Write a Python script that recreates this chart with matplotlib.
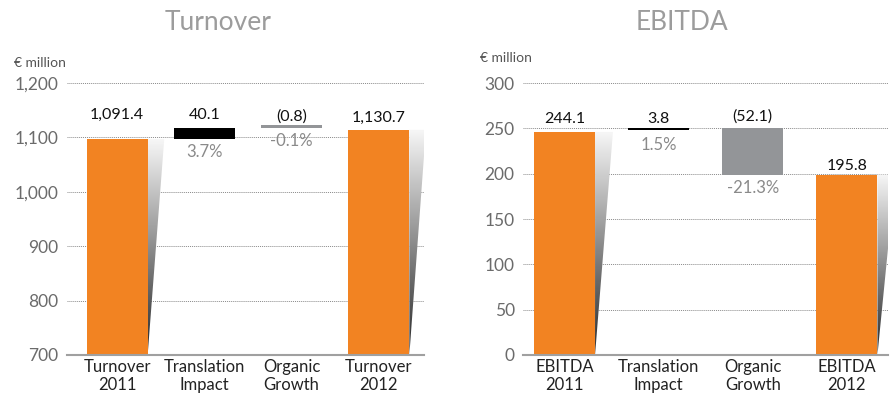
import numpy as np
from matplotlib import pyplot as plt
from matplotlib.patches import Polygon
from matplotlib.colors import LinearSegmentedColormap

plt.rcParams['font.family'] = ['Lato', 'DejaVu Sans']

# Turnover panel (bars as drawn, labels as printed)
turn_cats = ["Turnover\n2011", "Translation\nImpact", "Organic\nGrowth", "Turnover\n2012"]
turn_low = [700, 1097, 1117, 700]
turn_high = [1097, 1118, 1122, 1114]
turn_values = ["1,091.4", "40.1", "(0.8)", "1,130.7"]
turn_pct = ["", "3.7%", "-0.1%", ""]

# EBITDA panel
ebit_cats = ["EBITDA\n2011", "Translation\nImpact", "Organic\nGrowth", "EBITDA\n2012"]
ebit_low = [0, 248, 199, 0]
ebit_high = [246, 250, 250, 199]
ebit_values = ["244.1", "3.8", "(52.1)", "195.8"]
ebit_pct = ["", "1.5%", "-21.3%", ""]

orange = '#F28322'
kinds = ['total', 'up', 'down', 'total']
colors = {'total': orange, 'up': '#000000', 'down': '#939598'}

shade = LinearSegmentedColormap.from_list('shade', ['#f7f7f7', '#b0b0b0', '#6a6a6a', '#2a2a2a'])


def shadow(ax, xr, top, bottom, dx):
	poly = Polygon([(xr, top), (xr + dx, top), (xr, bottom)], closed=True,
				   facecolor='none', edgecolor='none')
	ax.add_patch(poly)
	grad = np.linspace(0, 1, 256).reshape(-1, 1)
	im = ax.imshow(grad, cmap=shade, extent=[xr, xr + dx, bottom, top],
				   aspect='auto', zorder=1, interpolation='bilinear')
	im.set_clip_path(poly)


def panel(rect, title, title_x, cats, low, high, vals, pcts, ylim, yticks, yfmt,
		  width, xlim, val_y, pct_y):
	ax = fig.add_axes(rect)
	x = np.arange(len(cats))
	for i in range(len(cats)):
		ax.bar(x[i], high[i] - low[i], bottom=low[i], width=width,
			   color=colors[kinds[i]], zorder=2)
		if kinds[i] == 'total':
			shadow(ax, x[i] + width / 2, high[i], low[i], 0.19)
		ax.text(x[i], val_y[i], vals[i], ha='center', va='center',
				fontsize=11.5, color='#111111')
		if pcts[i]:
			ax.text(x[i], pct_y[i], pcts[i], ha='center', va='center',
					fontsize=12, color='#8a8a8a')
	ax.set_xlim(*xlim)
	ax.set_ylim(*ylim)
	ax.set_yticks(yticks)
	ax.set_yticklabels([yfmt.format(v) for v in yticks])
	ax.set_xticks(x)
	ax.set_xticklabels(cats, linespacing=1.15)
	ax.tick_params(axis='y', length=0, pad=6, labelsize=12.5, labelcolor='#6b6b6b')
	ax.tick_params(axis='x', length=0, pad=3, labelsize=12, labelcolor='#222222')
	ax.grid(axis='y', linestyle=(0, (1, 1)), color='#8a8a8a', linewidth=0.7, zorder=0)
	ax.set_axisbelow(True)
	for s in ['top', 'right', 'left']:
		ax.spines[s].set_visible(False)
	ax.spines['bottom'].set_color('#a0a0a0')
	ax.spines['bottom'].set_linewidth(1.5)
	ax.spines['bottom'].set_zorder(3)
	fig.text(title_x, 0.945, title, ha='center', va='center', fontsize=19,
			 color='#9c9c9c')
	return ax


fig = plt.figure(figsize=(8.93, 4.05), dpi=100)

panel([0.075, 0.1235, 0.400, 0.6715], "Turnover", 0.244, turn_cats, turn_low, turn_high,
	  turn_values, turn_pct, (700, 1200), [700, 800, 900, 1000, 1100, 1200], "{:,}",
	  0.70, (-0.575, 3.52), [1141, 1141, 1137.5, 1136], [0, 1073, 1093, 0])
fig.text(0.016, 0.844, "€ million", fontsize=10, color='#555555', va='center')

panel([0.5857, 0.1235, 0.409, 0.6715], "EBITDA", 0.764, ebit_cats, ebit_low, ebit_high,
	  ebit_values, ebit_pct, (0, 300), [0, 50, 100, 150, 200, 250, 300], "{:d}",
	  0.65, (-0.44, 3.44), [260, 260, 262.5, 208.5], [0, 231.6, 184, 0])
fig.text(0.537, 0.857, "€ million", fontsize=10, color='#555555', va='center')

plt.savefig('out.png', dpi=100)
